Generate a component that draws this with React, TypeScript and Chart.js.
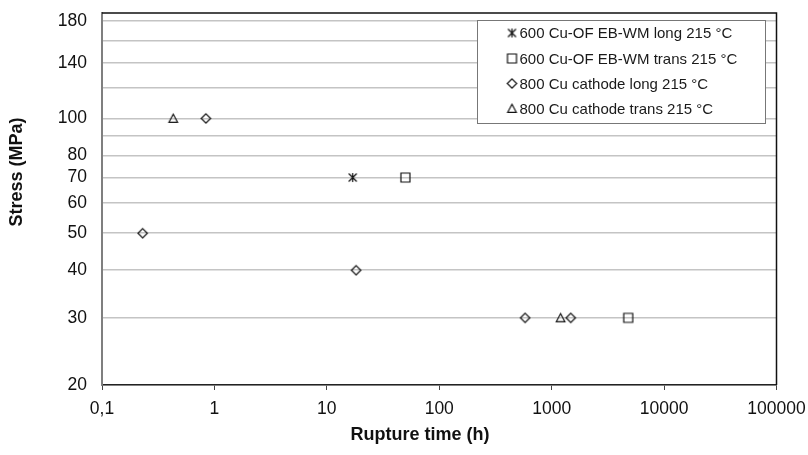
import React, { useEffect, useRef } from "react";
import { Chart, registerables } from "chart.js";

Chart.register(...registerables);

// ---- data ----
const xTickValues = [0.1, 1, 10, 100, 1000, 10000, 100000];
const xTickLabels = ["0,1", "1", "10", "100", "1000", "10000", "100000"];
const yGridValues = [20, 30, 40, 50, 60, 70, 80, 90, 100, 120, 140, 160, 180];
const yLabeledValues = [20, 30, 40, 50, 60, 70, 80, 100, 140, 180];

const seriesLabels = [
  "600 Cu-OF EB-WM long 215 °C",
  "600 Cu-OF EB-WM trans 215 °C",
  "800 Cu cathode long 215 °C",
  "800 Cu cathode trans 215 °C",
];

const cuOfLongTime = [17];
const cuOfLongStress = [70];
const cuOfTransTime = [50, 4800];
const cuOfTransStress = [70, 30];
const cathodeLongTime = [0.84, 0.23, 18.2, 580, 1480];
const cathodeLongStress = [100, 50, 40, 30, 30];
const cathodeTransTime = [0.43, 1200];
const cathodeTransStress = [100, 30];

const xTitle = "Rupture time (h)";
const yTitle = "Stress (MPa)";

const FONT = '"Liberation Sans", Arial, sans-serif';

function makeMarker(kind: string): HTMLCanvasElement {
  const c = document.createElement("canvas");
  c.width = 13;
  c.height = 13;
  const ctx = c.getContext("2d")!;
  ctx.strokeStyle = "#111";
  ctx.lineWidth = 1.2;
  ctx.beginPath();
  if (kind === "star") {
    ctx.moveTo(2.5, 2.5);
    ctx.lineTo(10.5, 10.5);
    ctx.moveTo(10.5, 2.5);
    ctx.lineTo(2.5, 10.5);
    ctx.moveTo(6.5, 2);
    ctx.lineTo(6.5, 11);
  } else if (kind === "square") {
    ctx.rect(2, 2, 9, 9);
  } else if (kind === "diamond") {
    ctx.moveTo(6.5, 1.8);
    ctx.lineTo(11.2, 6.5);
    ctx.lineTo(6.5, 11.2);
    ctx.lineTo(1.8, 6.5);
    ctx.closePath();
  } else {
    ctx.moveTo(6.5, 2.3);
    ctx.lineTo(10.8, 10.3);
    ctx.lineTo(2.2, 10.3);
    ctx.closePath();
  }
  ctx.stroke();
  return c;
}

function pts(xs: number[], ys: number[]) {
  return xs.map((x, i) => ({ x, y: ys[i] }));
}

export default function App() {
  const ref = useRef<HTMLCanvasElement | null>(null);

  useEffect(() => {
    document.body.style.margin = "0";
    const markers = [
      makeMarker("star"),
      makeMarker("square"),
      makeMarker("diamond"),
      makeMarker("triangle"),
    ];
    const dataSets = [
      pts(cuOfLongTime, cuOfLongStress),
      pts(cuOfTransTime, cuOfTransStress),
      pts(cathodeLongTime, cathodeLongStress),
      pts(cathodeTransTime, cathodeTransStress),
    ];

    const extras = {
      id: "extras",
      afterDraw(chart: any) {
        const ctx = chart.ctx;
        const a = chart.chartArea;
        ctx.save();
        // top & right border
        ctx.strokeStyle = "#111";
        ctx.lineWidth = 1.5;
        ctx.beginPath();
        ctx.moveTo(a.left, a.top);
        ctx.lineTo(a.right, a.top);
        ctx.lineTo(a.right, a.bottom);
        ctx.stroke();

        // legend
        const lx = 477.5, ly = 20.5, lw = 288, lh = 103;
        ctx.fillStyle = "#fff";
        ctx.fillRect(lx, ly, lw, lh);
        ctx.strokeStyle = "#777";
        ctx.lineWidth = 1;
        ctx.strokeRect(lx, ly, lw, lh);
        const rows = [33, 58.5, 83.5, 108.5];
        ctx.font = "15px " + FONT;
        ctx.fillStyle = "#1a1a1a";
        ctx.textAlign = "left";
        ctx.textBaseline = "middle";
        chart.data.datasets.forEach((ds: any, i: number) => {
          const m = ds.pointStyle as HTMLCanvasElement;
          ctx.drawImage(m, 512 - m.width / 2, rows[i] - m.height / 2);
          ctx.fillText(ds.label, 519.5, rows[i] + 1);
        });

        // axis titles
        ctx.font = "bold 18px " + FONT;
        ctx.fillStyle = "#111";
        ctx.textAlign = "center";
        ctx.textBaseline = "middle";
        ctx.fillText(xTitle, 420, 435);
        ctx.translate(17.5, 172);
        ctx.rotate(-Math.PI / 2);
        ctx.fillText(yTitle, 0, 0);
        ctx.restore();
      },
    };

    const chart = new Chart(ref.current!, {
      type: "scatter",
      data: {
        datasets: seriesLabels.map((label, i) => ({
          label,
          data: dataSets[i],
          pointStyle: markers[i] as any,
          showLine: false,
          borderColor: "#111",
          backgroundColor: "transparent",
        })),
      },
      options: {
        responsive: false,
        animation: false,
        layout: { padding: { left: 0, top: 13, right: 31.5, bottom: 0 } },
        plugins: {
          legend: { display: false },
          tooltip: { enabled: false },
          title: { display: false },
        },
        scales: {
          x: {
            type: "logarithmic",
            min: 0.1,
            max: 100000,
            afterBuildTicks: (scale: any) => {
              scale.ticks = xTickValues.map((v) => ({ value: v }));
            },
            afterFit: (scale: any) => {
              scale.height = 70;
              scale.paddingLeft = 0;
              scale.paddingRight = 0;
              scale.paddingTop = 0;
              scale.paddingBottom = 0;
            },
            grid: {
              drawOnChartArea: false,
              drawTicks: true,
              tickLength: 5,
              color: "#444",
              lineWidth: 1,
            },
            border: { display: true, color: "#222", width: 1.5 },
            ticks: {
              autoSkip: false,
              maxRotation: 0,
              padding: 9,
              color: "#111",
              font: { family: FONT, size: 17.5 },
              callback: (v: any) => {
                const i = xTickValues.findIndex((t) => Math.abs(t - Number(v)) < 1e-9 * Math.max(1, t));
                return i >= 0 ? xTickLabels[i] : "";
              },
            },
          },
          y: {
            type: "logarithmic",
            min: 20,
            max: 189,
            afterBuildTicks: (scale: any) => {
              scale.ticks = yGridValues.map((v) => ({ value: v }));
            },
            afterFit: (scale: any) => {
              scale.width = 102;
              scale.paddingLeft = 0;
              scale.paddingRight = 0;
              scale.paddingTop = 0;
              scale.paddingBottom = 0;
            },
            grid: {
              drawTicks: false,
              color: "#c4c4c4",
              lineWidth: 1.5,
            },
            border: { display: true, color: "#7f7f7f", width: 2 },
            ticks: {
              autoSkip: false,
              padding: 15,
              color: "#111",
              font: { family: FONT, size: 17.5 },
              callback: (v: any) => (yLabeledValues.includes(Number(v)) ? String(v) : ""),
            },
          },
        },
      },
      plugins: [extras],
    });
    return () => chart.destroy();
  }, []);

  return (
    <div style={{ width: 808, height: 455 }}>
      <canvas ref={ref} width={808} height={455} />
    </div>
  );
}
